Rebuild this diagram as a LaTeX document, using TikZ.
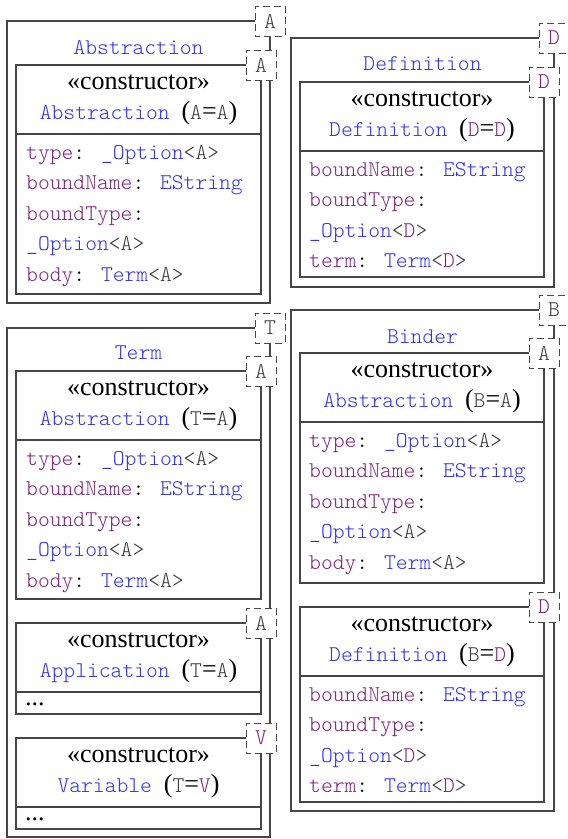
\documentclass[tikz,border=0pt]{standalone}
\usepackage{fontspec}
\setmainfont{Liberation Serif}
\newfontfamily\cmono{lmmonolt10-regular.otf}
\definecolor{cpurple}{RGB}{125,35,125}
\definecolor{cblue}{RGB}{50,50,235}
\definecolor{cgray}{RGB}{60,60,60}
\definecolor{clines}{RGB}{70,70,70}
\newcommand{\pu}[1]{\textcolor{cpurple}{#1}}
\newcommand{\bu}[1]{\textcolor{cblue}{#1}}
\newcommand{\gr}[1]{\textcolor{cgray}{#1}}
\newcommand{\srf}[1]{{\fontsize{26}{30}\rmfamily #1}}
\newcommand{\monosz}{\cmono\fontsize{22.5}{26}\selectfont}
\begin{document}
\begin{tikzpicture}[x=1pt,y=-1pt,
  box/.style={draw=clines,line width=1.1pt,rectangle,anchor=north west,inner sep=0pt,outer sep=0pt},
  tparam/.style={draw=clines,line width=0.9pt,dash pattern=on 7pt off 4pt,dash phase=2pt,fill=white,
    minimum width=30pt,minimum height=30pt,inner sep=0pt,font=\monosz},
  title/.style={anchor=base,inner sep=0pt,font=\monosz,text=cblue},
  stereo/.style={anchor=base,inner sep=0pt,font=\fontsize{26}{30}\rmfamily},
  header/.style={anchor=base,inner sep=0pt,font=\monosz},
  field/.style={anchor=base west,inner sep=0pt,font=\monosz},
  dots/.style={anchor=base west,inner sep=0pt,font=\fontsize{26}{30}\rmfamily},
  sepline/.style={draw=clines,line width=1.1pt}]
\useasboundingbox (0,0) rectangle (568,839);
\fill[white] (0,0) rectangle (568,839);

% ===== Abstraction =====
\node[box,minimum width=263pt,minimum height=282pt] (absO) at (7,21) {};
\node[box,minimum width=245pt,minimum height=229pt] (absI) at (16,65) {};
\draw[sepline] ([yshift=-69pt]absI.north west) -- ([yshift=-69pt]absI.north east);
\node[tparam] (absOT) at (absO.north east) {\gr{A}};
\node[tparam] (absIT) at (absI.north east) {\gr{A}};
\node[title] (absTitle) at (138.5,54) {Abstraction};
\node[stereo] (absSt) at (138.5,89) {«constructor»};
\node[header] (absHd) at (138.5,119) {\bu{Abstraction} \srf{(}\gr{A}\srf{=}\gr{A}\srf{)}};
\node[field] (absF1) at (26,159) {\pu{type}: \bu{\_Option}\gr{<A>}};
\node[field] (absF2) at (26,189.5) {\pu{boundName}: \bu{EString}};
\node[field] (absF3) at (26,220) {\pu{boundType}:};
\node[field] (absF4) at (26,250.5) {\bu{\_Option}\gr{<A>}};
\node[field] (absF5) at (26,281) {\pu{body}: \bu{Term}\gr{<A>}};

% ===== Definition =====
\node[box,minimum width=263pt,minimum height=249pt] (defO) at (291,38) {};
\node[box,minimum width=244pt,minimum height=195pt] (defI) at (300,82) {};
\draw[sepline] ([yshift=-69pt]defI.north west) -- ([yshift=-69pt]defI.north east);
\node[tparam] (defOT) at (defO.north east) {\pu{D}};
\node[tparam] (defIT) at (defI.north east) {\pu{D}};
\node[title] (defTitle) at (422.5,70) {Definition};
\node[stereo] (defSt) at (422,106) {«constructor»};
\node[header] (defHd) at (422,136) {\bu{Definition} \srf{(}\pu{D}\srf{=}\pu{D}\srf{)}};
\node[field] (defF1) at (309,176) {\pu{boundName}: \bu{EString}};
\node[field] (defF2) at (309,206.5) {\pu{boundType}:};
\node[field] (defF3) at (309,237) {\bu{\_Option}\gr{<}\pu{D}\gr{>}};
\node[field] (defF4) at (309,267.5) {\pu{term}: \bu{Term}\gr{<}\pu{D}\gr{>}};

% ===== Term =====
\node[box,minimum width=263pt,minimum height=509pt] (termO) at (7,328) {};
\node[box,minimum width=245pt,minimum height=228pt] (termI1) at (16,371) {};
\node[box,minimum width=245pt,minimum height=91pt] (termI2) at (16,623) {};
\node[box,minimum width=245pt,minimum height=91pt] (termI3) at (16,738) {};
\draw[sepline] ([yshift=-69pt]termI1.north west) -- ([yshift=-69pt]termI1.north east);
\draw[sepline] ([yshift=-69pt]termI2.north west) -- ([yshift=-69pt]termI2.north east);
\draw[sepline] ([yshift=-69pt]termI3.north west) -- ([yshift=-69pt]termI3.north east);
\node[tparam] (termOT) at (termO.north east) {\gr{T}};
\node[tparam] (termIT1) at (termI1.north east) {\gr{A}};
\node[tparam] (termIT2) at (termI2.north east) {\gr{A}};
\node[tparam] (termIT3) at (termI3.north east) {\pu{V}};
\node[title] (termTitle) at (138.5,359) {Term};
\node[stereo] (termSt1) at (138.5,395) {«constructor»};
\node[header] (termHd1) at (138.5,425) {\bu{Abstraction} \srf{(}\gr{T}\srf{=}\gr{A}\srf{)}};
\node[field] (termF1) at (26,465) {\pu{type}: \bu{\_Option}\gr{<A>}};
\node[field] (termF2) at (26,495.5) {\pu{boundName}: \bu{EString}};
\node[field] (termF3) at (26,526) {\pu{boundType}:};
\node[field] (termF4) at (26,556.5) {\bu{\_Option}\gr{<A>}};
\node[field] (termF5) at (26,587) {\pu{body}: \bu{Term}\gr{<A>}};
\node[stereo] (termSt2) at (138.5,647) {«constructor»};
\node[header] (termHd2) at (138.5,677) {\bu{Application} \srf{(}\gr{T}\srf{=}\gr{A}\srf{)}};
\node[dots] (termD2) at (25,705) {...};
\node[stereo] (termSt3) at (138.5,762) {«constructor»};
\node[header] (termHd3) at (138.5,792) {\bu{Variable} \srf{(}\gr{T}\srf{=}\pu{V}\srf{)}};
\node[dots] (termD3) at (25,820) {...};

% ===== Binder =====
\node[box,minimum width=263pt,minimum height=501pt] (bindO) at (291,310) {};
\node[box,minimum width=244pt,minimum height=230pt] (bindI1) at (300,353) {};
\node[box,minimum width=244pt,minimum height=195pt] (bindI2) at (300,607) {};
\draw[sepline] ([yshift=-69pt]bindI1.north west) -- ([yshift=-69pt]bindI1.north east);
\draw[sepline] ([yshift=-69pt]bindI2.north west) -- ([yshift=-69pt]bindI2.north east);
\node[tparam] (bindOT) at (bindO.north east) {\gr{B}};
\node[tparam] (bindIT1) at (bindI1.north east) {\gr{A}};
\node[tparam] (bindIT2) at (bindI2.north east) {\pu{D}};
\node[title] (bindTitle) at (422.5,343) {Binder};
\node[stereo] (bindSt1) at (422,377) {«constructor»};
\node[header] (bindHd1) at (422,407) {\bu{Abstraction} \srf{(}\gr{B}\srf{=}\gr{A}\srf{)}};
\node[field] (bindF1) at (309,447) {\pu{type}: \bu{\_Option}\gr{<A>}};
\node[field] (bindF2) at (309,477.5) {\pu{boundName}: \bu{EString}};
\node[field] (bindF3) at (309,508) {\pu{boundType}:};
\node[field] (bindF4) at (309,538.5) {\bu{\_Option}\gr{<A>}};
\node[field] (bindF5) at (309,569) {\pu{body}: \bu{Term}\gr{<A>}};
\node[stereo] (bindSt2) at (422,631) {«constructor»};
\node[header] (bindHd2) at (422,661) {\bu{Definition} \srf{(}\gr{B}\srf{=}\pu{D}\srf{)}};
\node[field] (bindG1) at (309,701) {\pu{boundName}: \bu{EString}};
\node[field] (bindG2) at (309,731.5) {\pu{boundType}:};
\node[field] (bindG3) at (309,762) {\bu{\_Option}\gr{<}\pu{D}\gr{>}};
\node[field] (bindG4) at (309,792.5) {\pu{term}: \bu{Term}\gr{<}\pu{D}\gr{>}};
\end{tikzpicture}
\end{document}
